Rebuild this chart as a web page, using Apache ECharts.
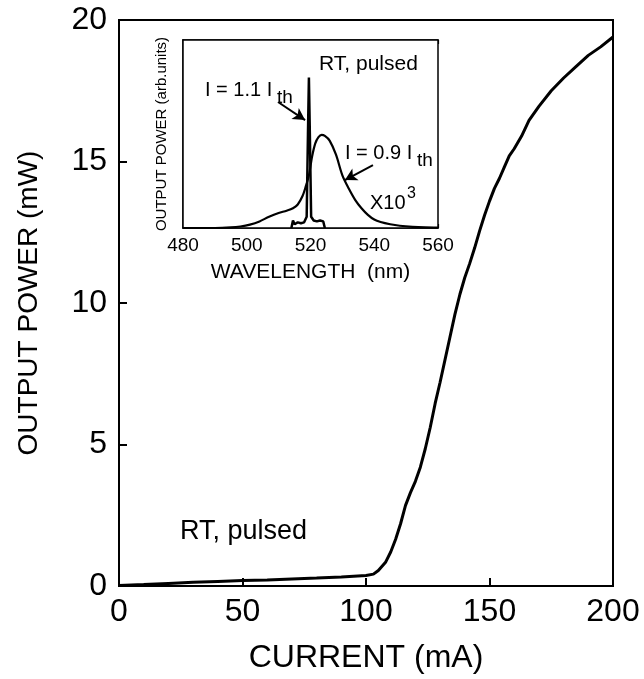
<!DOCTYPE html>
<html>
<head>
<meta charset="utf-8">
<script src="https://cdn.jsdelivr.net/npm/echarts@6/dist/echarts.min.js"></script>
<style>
html,body{margin:0;padding:0;background:#fff;}
#chart{width:644px;height:679px;}
</style>
</head>
<body>
<div id="chart"></div>
<script>
// Main L-I curve
const currentMA = [0, 10, 20, 30, 40, 50, 60, 70, 80, 90, 100, 103, 105, 108, 110, 112, 114, 116, 118, 120, 122, 124, 126, 128, 130, 132, 134, 136, 138, 140, 142, 144, 146, 148, 150, 152, 154, 156, 158, 160, 163, 166, 170, 175, 180, 185, 190, 195, 200];
const powerMW = [0.02, 0.05, 0.09, 0.13, 0.16, 0.19, 0.21, 0.25, 0.28, 0.32, 0.37, 0.42, 0.55, 0.85, 1.2, 1.65, 2.2, 2.85, 3.3, 3.7, 4.2, 4.85, 5.6, 6.45, 7.2, 8.0, 8.8, 9.6, 10.3, 10.9, 11.4, 11.95, 12.55, 13.1, 13.6, 14.05, 14.4, 14.8, 15.2, 15.45, 15.9, 16.45, 16.95, 17.5, 17.95, 18.35, 18.75, 19.05, 19.4];

// Inset spectra
const wl09 = [480, 490, 495, 498, 501, 504, 507, 510, 512.5, 514.5, 516, 517.5, 518.5, 519.5, 520.5, 521.5, 522.5, 523.5, 524.5, 526, 528, 530, 532, 534, 536, 538, 540, 542, 545, 548, 552, 556, 560];
const spec09 = [0.0, 0.0, 0.003, 0.008, 0.018, 0.035, 0.06, 0.08, 0.092, 0.105, 0.125, 0.17, 0.22, 0.28, 0.38, 0.45, 0.483, 0.495, 0.49, 0.465, 0.39, 0.28, 0.21, 0.15, 0.105, 0.07, 0.045, 0.032, 0.02, 0.012, 0.006, 0.003, 0.002];
const wl11 = [514, 514.5, 515, 516, 517, 518, 518.8, 519.2, 519.5, 519.8, 520.2, 521, 522, 523, 524, 524.5];
const spec11 = [0.0, 0.04, 0.02, 0.03, 0.025, 0.03, 0.06, 0.5, 0.80, 0.5, 0.06, 0.04, 0.035, 0.04, 0.035, 0.0];

const xTicks = [0, 50, 100, 150, 200];
const yTicks = [0, 5, 10, 15, 20];
const insetTicks = [480, 500, 520, 540, 560];

const FONT = 'Liberation Sans, Arial, Helvetica, sans-serif';
const zip = (a, b) => a.map((v, i) => [v, b[i]]);

const chart = echarts.init(document.getElementById('chart'), null, {renderer: 'canvas'});
chart.setOption({
  animation: false,
  backgroundColor: '#fff',
  textStyle: {fontFamily: FONT, color: '#000'},
  grid: [
    {left: 119, right: 31, top: 20, bottom: 87, show: true, borderColor: '#000', borderWidth: 2, backgroundColor: 'transparent'},
    {left: 183, right: 206, top: 40, bottom: 451, show: true, borderColor: '#000', borderWidth: 1.5, backgroundColor: '#fff', z: 5}
  ],
  xAxis: [
    {
      gridIndex: 0, type: 'value', min: xTicks[0], max: xTicks[xTicks.length - 1], interval: 50,
      axisLine: {lineStyle: {color: '#000', width: 2}},
      axisTick: {inside: true, length: 8, lineStyle: {color: '#000', width: 2}},
      axisLabel: {fontSize: 32, color: '#000', margin: 10, fontFamily: FONT},
      splitLine: {show: false},
      name: 'CURRENT (mA)', nameLocation: 'middle', nameGap: 56,
      nameTextStyle: {fontSize: 32, color: '#000', fontFamily: FONT}
    },
    {
      gridIndex: 1, type: 'value', min: insetTicks[0], max: insetTicks[insetTicks.length - 1], interval: 20,
      axisLine: {lineStyle: {color: '#000', width: 1.5}},
      axisTick: {inside: true, length: 4, lineStyle: {color: '#000', width: 1.2}},
      minorTick: {show: true, splitNumber: 4, length: 3, lineStyle: {color: '#000', width: 1}},
      axisLabel: {fontSize: 19, color: '#000', margin: 8, fontFamily: FONT},
      splitLine: {show: false},
      name: 'WAVELENGTH  (nm)', nameLocation: 'middle', nameGap: 34,
      nameTextStyle: {fontSize: 21, color: '#000', fontFamily: FONT}
    },
    {
      gridIndex: 1, type: 'value', position: 'top', min: insetTicks[0], max: insetTicks[insetTicks.length - 1], interval: 20,
      axisLine: {lineStyle: {color: '#000', width: 1.5}},
      axisTick: {inside: true, length: 4, lineStyle: {color: '#000', width: 1.2}},
      minorTick: {show: true, splitNumber: 4, length: 3, lineStyle: {color: '#000', width: 1}},
      axisLabel: {show: false},
      splitLine: {show: false}
    }
  ],
  yAxis: [
    {
      gridIndex: 0, type: 'value', min: yTicks[0], max: yTicks[yTicks.length - 1], interval: 5,
      axisLine: {lineStyle: {color: '#000', width: 2}},
      axisTick: {inside: true, length: 8, lineStyle: {color: '#000', width: 2}},
      axisLabel: {fontSize: 32, color: '#000', margin: 12, fontFamily: FONT},
      splitLine: {show: false},
      name: 'OUTPUT POWER (mW)', nameLocation: 'middle', nameGap: 76,
      nameTextStyle: {fontSize: 28, color: '#000', fontFamily: FONT}
    },
    {
      gridIndex: 1, type: 'value', min: 0, max: 1,
      axisLine: {lineStyle: {color: '#000', width: 1.5}},
      axisTick: {show: false},
      axisLabel: {show: false},
      splitLine: {show: false},
      name: 'OUTPUT POWER (arb.units)', nameLocation: 'middle', nameGap: 14,
      nameTextStyle: {fontSize: 15, color: '#000', fontFamily: FONT}
    }
  ],
  series: [
    {
      type: 'line', xAxisIndex: 0, yAxisIndex: 0, data: zip(currentMA, powerMW),
      showSymbol: false, symbol: 'none', lineStyle: {color: '#000', width: 3}, z: 3
    },
    {
      type: 'line', xAxisIndex: 1, yAxisIndex: 1, data: zip(wl09, spec09),
      showSymbol: false, symbol: 'none', smooth: 0.3, lineStyle: {color: '#000', width: 2.2}, z: 10,
      markLine: {
        silent: true, symbol: ['none', 'arrow'], symbolSize: [10, 12],
        lineStyle: {color: '#000', width: 2, type: 'solid'}, label: {show: false},
        data: [
          [{coord: [539.6, 0.335]}, {coord: [530.8, 0.255]}],
          [{coord: [509.8, 0.67]}, {coord: [518.3, 0.574]}]
        ]
      }
    },
    {
      type: 'line', xAxisIndex: 1, yAxisIndex: 1, data: zip(wl11, spec11),
      showSymbol: false, symbol: 'none', lineStyle: {color: '#000', width: 2.5}, z: 11
    }
  ],
  graphic: [
    {type: 'text', left: 180, top: 518, z: 20, style: {text: 'RT, pulsed', font: '27px ' + FONT, fill: '#000'}},
    {type: 'text', left: 319, top: 54, z: 20, style: {text: 'RT, pulsed', font: '21px ' + FONT, fill: '#000'}},
    {type: 'text', left: 205, top: 80, z: 20, style: {text: 'I = 1.1 I', font: '20px ' + FONT, fill: '#000'}},
    {type: 'text', left: 277, top: 88, z: 20, style: {text: 'th', font: '19px ' + FONT, fill: '#000'}},
    {type: 'text', left: 345, top: 143, z: 20, style: {text: 'I = 0.9 I', font: '20px ' + FONT, fill: '#000'}},
    {type: 'text', left: 417, top: 151, z: 20, style: {text: 'th', font: '19px ' + FONT, fill: '#000'}},
    {type: 'text', left: 370, top: 193, z: 20, style: {text: 'X10', font: '20px ' + FONT, fill: '#000'}},
    {type: 'text', left: 407, top: 186, z: 20, style: {text: '3', font: '16px ' + FONT, fill: '#000'}}
  ]
});
</script>
</body>
</html>
